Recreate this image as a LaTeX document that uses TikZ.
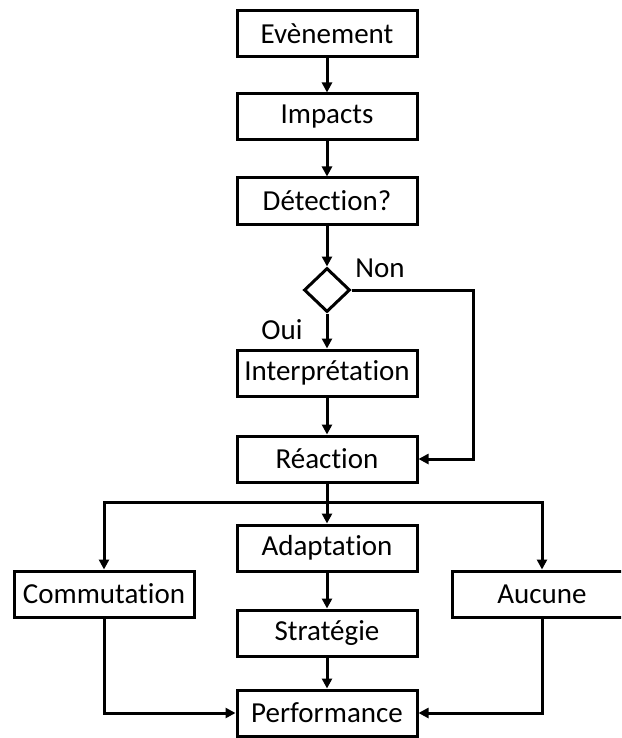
\documentclass[tikz,border=0pt]{standalone}
\usepackage{fontspec}
\setmainfont{Carlito}[RawFeature={-liga;-clig;-calt;-dlig}]
\usetikzlibrary{arrows.meta,shapes.geometric}
\begin{document}
\begin{tikzpicture}[x=1pt,y=-1pt,
  box/.style={draw=black,line width=3pt,minimum width=180pt,minimum height=46pt,inner sep=0pt,font=\fontsize{29}{34}\selectfont},
  lbl/.style={inner sep=0pt,font=\fontsize{29}{34}\selectfont},
  conn/.style={line width=3pt,draw=black},
  arr/.style={conn,-{Triangle[length=10pt,width=10pt]}}]
\useasboundingbox (0,0) rectangle (621,738);
\clip (0,0) rectangle (621,738);
\node[box] (ev) at (327,34) {Evènement};
\node[box] (imp) at (327,117) {Impacts};
\node[box] (det) at (327,201) {Détection?};
\node[draw=black,line width=3pt,shape=diamond,minimum width=46pt,minimum height=44pt,inner sep=0pt] (dia) at (327,290) {};
\node[lbl] (non) at (380,268) {Non};
\node[lbl] (oui) at (282,330) {Oui};
\node[box] (interp) at (327,373) {Interprétation};
\node[box] (reac) at (327,459) {Réaction};
\node[box] (adapt) at (327,548) {Adaptation};
\node[box] (comm) at (104,594) {Commutation};
\node[box] (auc) at (542,594) {Aucune};
\node[box] (strat) at (327,633) {Stratégie};
\node[box] (perf) at (327,713) {Performance};
\coordinate (br) at (327,502);
\coordinate (nr) at (473,290);
\draw[arr] (ev) -- (imp);
\draw[arr] (imp) -- (det);
\draw[arr] (det) -- (dia.north);
\draw[arr] (dia.south) -- (interp);
\draw[arr] (dia.east) -- (nr) |- (reac.east);
\draw[arr] (interp) -- (reac);
\draw[conn] (reac.south) -- (br);
\draw[arr] (br) -| (comm.north);
\draw[arr] (br) -| (auc.north);
\draw[arr] (br) -- (adapt.north);
\draw[arr] (adapt) -- (strat);
\draw[arr] (strat) -- (perf);
\draw[arr] (comm.south) |- (perf.west);
\draw[arr] (auc.south) |- (perf.east);
\end{tikzpicture}
\end{document}
